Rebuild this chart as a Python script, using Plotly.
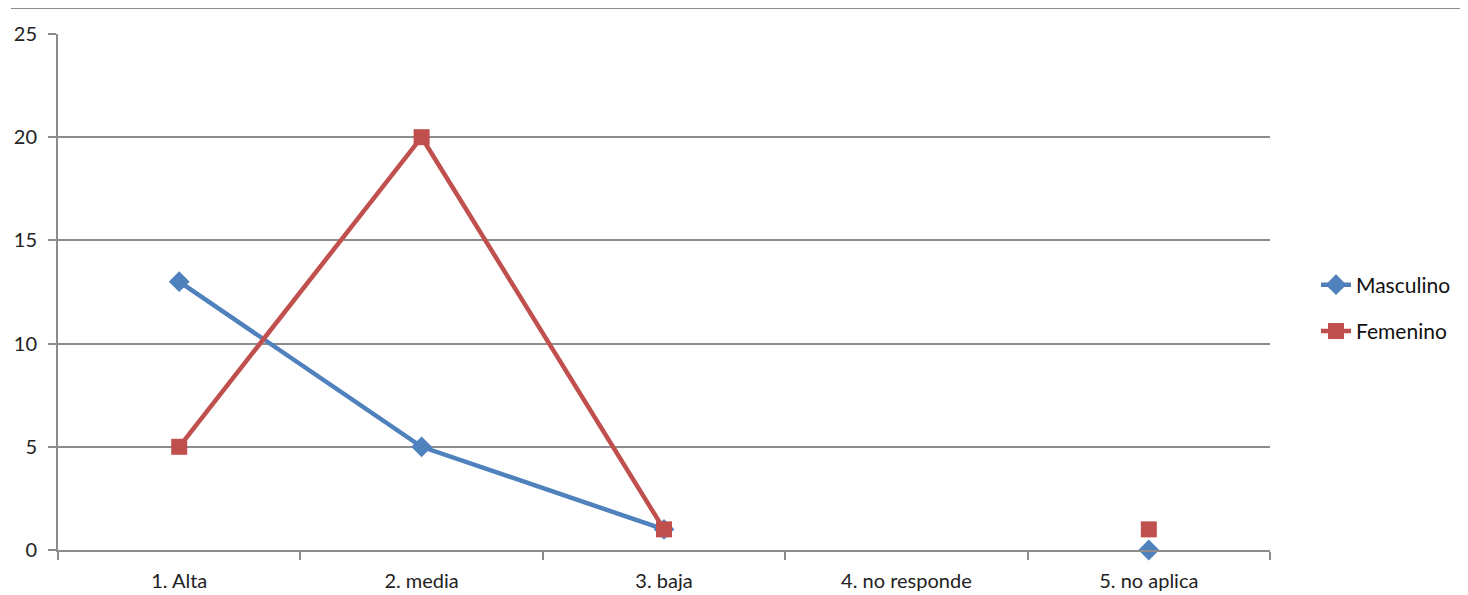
import plotly.graph_objects as go

categories = ["1. Alta", "2. media", "3. baja", "4. no responde", "5. no aplica"]
masculino = [13, 5, 1, None, 0]
femenino = [5, 20, 1, None, 1]
y_ticks = [0, 5, 10, 15, 20, 25]

# page body has an 8px margin: work in screen coords, subtract offset
OFF = 8
W, H = 1468 - OFF, 595 - OFF
L, R, T, B = 58 - OFF, 1270 - OFF, 34 - OFF, 550 - OFF

fig = go.Figure()
fig.add_trace(go.Scatter(
    x=categories, y=masculino, name="Masculino", mode="lines+markers",
    line=dict(color="#4F81BD", width=4.5), marker=dict(symbol="diamond", size=16, color="#4F81BD"),
    connectgaps=False, legendgroup="m", cliponaxis=False))
fig.add_trace(go.Scatter(
    x=categories, y=femenino, name="Femenino", mode="lines+markers",
    line=dict(color="#C0504D", width=4.5), marker=dict(symbol="square", size=16, color="#C0504D"),
    connectgaps=False, legendgroup="f", cliponaxis=False))

pw, ph = R - L, B - T
ytop = 8 - OFF
fig.add_shape(type="line", xref="paper", yref="paper",
              x0=(11 - OFF - L) / pw, x1=(W - L) / pw,
              y0=(B - ytop) / ph, y1=(B - ytop) / ph,
              line=dict(color="#8C8C8C", width=2))

fig.update_layout(
    width=W, height=H,
    margin=dict(l=L, r=W - R, t=T, b=H - B, pad=0, autoexpand=False),
    paper_bgcolor="white", plot_bgcolor="white",
    font=dict(family="Lato, Noto Sans, sans-serif", size=20, color="#222"),
    legend=dict(x=(1316 - OFF - L) / pw, xanchor="left", y=(B - (308 - OFF)) / ph, yanchor="middle",
                traceorder="grouped", tracegroupgap=16, font=dict(size=21, color="#111"),
                bgcolor="rgba(0,0,0,0)"),
    xaxis=dict(type="category", categoryorder="array", categoryarray=categories, range=[-0.5, 4.5],
               tickson="boundaries", ticks="outside", ticklen=8, tickcolor="#8C8C8C", tickwidth=2,
               showgrid=False, showline=True, linecolor="#8C8C8C", linewidth=2,
               zeroline=False, ticklabelstandoff=12, automargin=False),
    yaxis=dict(range=[0, 25], tickvals=y_ticks, ticks="outside", ticklen=8, tickcolor="#8C8C8C", tickwidth=2,
               showgrid=True, gridcolor="#8C8C8C", gridwidth=1.5,
               showline=True, linecolor="#8C8C8C", linewidth=2, zeroline=False, ticklabelstandoff=7,
               automargin=False),
)

fig.write_html("out.html")
